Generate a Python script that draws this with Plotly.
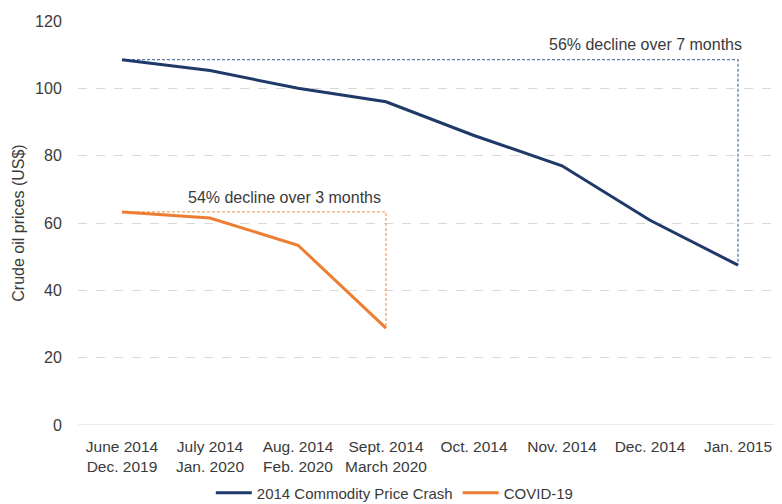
import plotly.graph_objects as go

months_2014 = ["June 2014", "July 2014", "Aug. 2014", "Sept. 2014", "Oct. 2014", "Nov. 2014", "Dec. 2014", "Jan. 2015"]
months_2020 = ["Dec. 2019", "Jan. 2020", "Feb. 2020", "March 2020", "", "", "", ""]
crash_2014 = [108.5, 105.3, 100.0, 96.0, 86.0, 77.0, 60.8, 47.5]
covid_19 = [63.3, 61.5, 53.4, 28.8]
y_ticks = [0, 20, 40, 60, 80, 100, 120]

ticktext = [a + ("<br>" + b if b else "<br> ") for a, b in zip(months_2014, months_2020)]
xs = list(range(len(months_2014)))

NAVY = "#1f3a68"
ORANGE = "#ed7d31"
FONT = "Liberation Sans"
TXT = "#3a3a3a"

fig = go.Figure()

# helper dashed brackets (decline markers)
fig.add_trace(go.Scatter(
    x=[xs[0], xs[7], xs[7]], y=[crash_2014[0], crash_2014[0], crash_2014[7]],
    mode="lines", line=dict(color="#5b7bab", width=1.3, dash="3px,2px"),
    showlegend=False, hoverinfo="skip"))
fig.add_trace(go.Scatter(
    x=[xs[0], xs[3], xs[3]], y=[covid_19[0], covid_19[0], covid_19[3]],
    mode="lines", line=dict(color="#f4a46a", width=1.3, dash="3px,2px"),
    showlegend=False, hoverinfo="skip"))

fig.add_trace(go.Scatter(
    x=xs, y=crash_2014, mode="lines", name="2014 Commodity Price Crash",
    line=dict(color=NAVY, width=3)))
fig.add_trace(go.Scatter(
    x=xs[:len(covid_19)], y=covid_19, mode="lines", name="COVID-19",
    line=dict(color=ORANGE, width=3)))

fig.add_annotation(x=5.95, y=crash_2014[0], yshift=15, text="56% decline over 7 months",
                   showarrow=False, xanchor="center",
                   font=dict(family=FONT, size=16, color=TXT))
fig.add_annotation(x=1.85, y=covid_19[0], yshift=14, text="54% decline over 3 months",
                   showarrow=False, xanchor="center",
                   font=dict(family=FONT, size=16, color=TXT))

# page body has an 8px margin, so the figure is sized 8px smaller
fig.update_layout(
    width=774, height=496,
    margin=dict(l=70, r=0, t=13, b=79),
    paper_bgcolor="white", plot_bgcolor="white",
    font=dict(family=FONT, size=15, color=TXT),
    legend=dict(orientation="h", x=0.45, xanchor="center", yref="container",
                y=0.022, yanchor="middle",
                font=dict(family=FONT, size=15, color=TXT), itemwidth=36,
                tracegroupgap=0),
    xaxis=dict(range=[-0.5, 7.5], tickmode="array", tickvals=xs, ticktext=ticktext,
               showgrid=False, zeroline=False, showline=False, automargin=False,
               ticks="outside", ticklen=7, tickcolor="rgba(0,0,0,0)",
               tickfont=dict(family=FONT, size=15.5, color=TXT)),
    yaxis=dict(range=[0, 120], tickmode="array", tickvals=y_ticks,
               showgrid=True, gridcolor="#d9d9d9", griddash="dash", gridwidth=1,
               zeroline=False, showline=False, automargin=False,
               ticks="outside", ticklen=12, tickcolor="rgba(0,0,0,0)",
               title=dict(text="Crude oil prices (US$)", standoff=6,
                          font=dict(family=FONT, size=16, color=TXT)),
               tickfont=dict(family=FONT, size=16, color=TXT)),
    showlegend=True,
)
# solid baseline at 0
fig.add_shape(type="line", xref="paper", x0=0, x1=1, yref="y", y0=0, y1=0,
              line=dict(color="#d9d9d9", width=1), layer="below")

fig.write_html("out.html")
